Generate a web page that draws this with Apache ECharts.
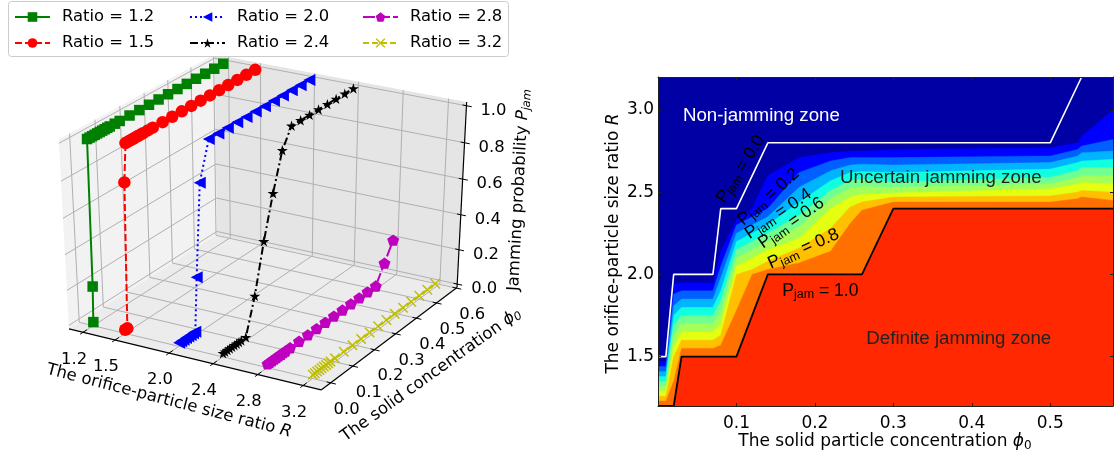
<!DOCTYPE html>
<html><head><meta charset="utf-8">
<style>html,body{margin:0;padding:0;background:#fff}#c{width:1116px;height:456px}</style>
<script src="https://cdn.jsdelivr.net/npm/echarts@6/dist/echarts.min.js"></script>
</head><body><div id="c"></div>
<script>
// ---------- left panel: jamming probability per size ratio ----------
const phiRatio12 = [0.001,0.005,0.01,0.02,0.03,0.04,0.05,0.06,0.07,0.08,0.09,0.10,0.12,0.14,0.18,0.22,0.26,0.30,0.34,0.38,0.42,0.46,0.50,0.54,0.58];
const pRatio12   = [0,0.2,1,1,1,1,1,1,1,1,1,1,1,1,1,1,1,1,1,1,1,1,1,1,1];
const phiRatio15 = [0.001,0.01,0.02,0.03,0.04,0.05,0.06,0.07,0.08,0.09,0.10,0.12,0.14,0.18,0.22,0.26,0.30,0.34,0.38,0.42,0.46,0.50,0.54,0.58];
const pRatio15   = [0,0,0.8,1,1,1,1,1,1,1,1,1,1,1,1,1,1,1,1,1,1,1,1,1];
const phiRatio20 = [0.001,0.01,0.02,0.03,0.04,0.05,0.06,0.07,0.08,0.10,0.14,0.18,0.22,0.26,0.30,0.34,0.38,0.42,0.46,0.50,0.54,0.58];
const pRatio20   = [0,0,0,0,0,0,0,0,0.3,0.8,1,1,1,1,1,1,1,1,1,1,1,1];
const phiRatio24 = [0.001,0.01,0.02,0.03,0.04,0.05,0.06,0.07,0.08,0.10,0.14,0.18,0.22,0.26,0.30,0.34,0.38,0.42,0.46,0.50,0.54,0.58];
const pRatio24   = [0,0,0,0,0,0,0,0,0,0,0.2,0.47,0.7,0.9,1,1,1,1,1,1,1,1];
const phiRatio28 = [0.001,0.01,0.02,0.03,0.04,0.05,0.06,0.07,0.08,0.10,0.14,0.18,0.22,0.26,0.30,0.34,0.38,0.42,0.46,0.50,0.54,0.58];
const pRatio28   = [0,0,0,0,0,0,0,0,0,0,0,0,0,0,0,0,0,0,0,0,0.1,0.2];
const phiRatio32 = [0.001,0.01,0.02,0.03,0.04,0.05,0.06,0.07,0.08,0.10,0.14,0.18,0.22,0.26,0.30,0.34,0.38,0.42,0.46,0.50,0.54,0.58];
const pRatio32   = [0,0,0,0,0,0,0,0,0,0,0,0,0,0,0,0,0,0,0,0,0,0];
const ratioTicks = [1.2,1.5,2.0,2.4,2.8,3.2];
const phiTicks   = [0,0.1,0.2,0.3,0.4,0.5,0.6];
const pTicks     = [0,0.2,0.4,0.6,0.8,1.0];

// ---------- right panel: contour boundaries, R at each phi column ----------
const contourPhi = [0,0.01,0.02,0.03,0.07,0.08,0.10,0.12,0.14,0.18,0.22,0.245,0.26,0.30,0.50,0.535,0.54,0.58];
const levelR1  = [1.47,1.47,1.94,1.95,1.95,2.14,2.33,2.40,2.60,2.71,2.74,2.75,2.75,2.76,2.77,2.80,2.84,3.00];
const levelR2  = [1.44,1.44,1.88,1.90,1.90,2.05,2.30,2.35,2.40,2.62,2.69,2.71,2.71,2.71,2.72,2.76,2.78,2.82];
const levelR3  = [1.41,1.41,1.81,1.85,1.85,1.98,2.25,2.30,2.35,2.53,2.63,2.665,2.67,2.665,2.68,2.72,2.74,2.75];
const levelR4  = [1.38,1.38,1.75,1.80,1.80,1.90,2.20,2.25,2.30,2.44,2.57,2.62,2.625,2.62,2.64,2.68,2.69,2.70];
const levelR5  = [1.35,1.35,1.69,1.75,1.75,1.84,2.15,2.20,2.25,2.36,2.51,2.57,2.58,2.56,2.59,2.63,2.65,2.65];
const levelR6  = [1.32,1.32,1.625,1.70,1.70,1.77,2.10,2.15,2.20,2.29,2.46,2.525,2.535,2.53,2.55,2.59,2.60,2.60];
const levelR7  = [1.29,1.29,1.56,1.65,1.65,1.70,2.05,2.10,2.15,2.22,2.40,2.47,2.485,2.495,2.52,2.55,2.56,2.55];
const levelR8  = [1.26,1.26,1.50,1.60,1.60,1.63,2.00,2.03,2.08,2.16,2.28,2.41,2.44,2.47,2.477,2.50,2.51,2.50];
const levelR9  = [1.23,1.23,1.35,1.55,1.55,1.57,1.78,2.00,2.03,2.07,2.14,2.31,2.39,2.44,2.44,2.46,2.47,2.45];
const levelR10 = [1.20,1.20,1.20,1.50,1.50,1.50,1.50,1.75,2.00,2.00,2.00,2.00,2.00,2.40,2.40,2.40,2.40,2.40];
const levelColors = ['#0000ff','#0060ff','#00b4ff','#10ffe0','#70ff90','#a4ff58','#e4ff10','#ffc000','#ff7000','#ff2800'];
const bgNavy = '#0000a4';
const pJam0Phi = [0,0.01,0.02,0.07,0.08,0.10,0.14,0.50,0.54,0.58];
const pJam0R   = [1.5,1.5,2.0,2.0,2.4,2.4,2.8,2.8,3.2,3.2];
const pJam1Phi = [0,0.02,0.03,0.10,0.14,0.26,0.30,0.58];
const pJam1R   = [1.2,1.2,1.5,1.5,2.0,2.0,2.4,2.4];
const xTickValues = [0.1,0.2,0.3,0.4,0.5];
const yTickValues = [1.5,2.0,2.5,3.0];

// ---------- 3D projection (elev 30, azim -60, dist 10) ----------
const RLIM=[1.067,3.358], PHILIM=[-0.042,0.604], ZLIM=[-0.02,1.02];
const SX=2911, TX=266, SY=2163, TY=216.5;
const U=[0.8660254,0.5,0], V=[-0.25,0.4330127,0.8660254], N=[0.4330127,-0.75,0.5];
function normProject(a,b,c){
  const q=[a-.5,b-.5,c-.5];
  const d=(v)=>v[0]*q[0]+v[1]*q[1]+v[2]*q[2];
  const w=10-d(N);
  return [d(U)/w,d(V)/w];
}
const nr=r=>(r-RLIM[0])/(RLIM[1]-RLIM[0]);
const np=p=>(p-PHILIM[0])/(PHILIM[1]-PHILIM[0]);
const nz=z=>(z-ZLIM[0])/(ZLIM[1]-ZLIM[0]);
const project=(r,p,z)=>normProject(nr(r),np(p),nz(z));
const FONT='"DejaVu Sans"';

function frameItem(params,api){
  const c=(a,b,d)=>api.coord(normProject(a,b,d));
  const poly=(pts,fill)=>({type:'polygon',silent:true,shape:{points:pts},style:{fill}});
  const seg=(p,q,stroke,lw)=>({type:'line',silent:true,shape:{x1:p[0],y1:p[1],x2:q[0],y2:q[1]},style:{stroke,lineWidth:lw}});
  const kids=[];
  kids.push(poly([c(0,0,0),c(0,1,0),c(0,1,1),c(0,0,1)],'#f2f2f2'));
  kids.push(poly([c(0,1,0),c(1,1,0),c(1,1,1),c(0,1,1)],'#e5e5e5'));
  kids.push(poly([c(0,0,0),c(1,0,0),c(1,1,0),c(0,1,0)],'#ececec'));
  const G='#b0b0b0';
  ratioTicks.forEach(r=>{const t=nr(r);
    kids.push(seg(c(t,0,0),c(t,1,0),G,1));kids.push(seg(c(t,1,0),c(t,1,1),G,1));});
  phiTicks.forEach(p=>{const t=np(p);
    kids.push(seg(c(0,t,0),c(1,t,0),G,1));kids.push(seg(c(0,t,0),c(0,t,1),G,1));});
  pTicks.forEach(z=>{const t=nz(z);
    kids.push(seg(c(0,0,t),c(0,1,t),G,1));kids.push(seg(c(0,1,t),c(1,1,t),G,1));});
  const K='#000';
  kids.push(seg(c(0,0,0),c(1,0,0),K,1.2));
  kids.push(seg(c(1,0,0),c(1,1,0),K,1.2));
  kids.push(seg(c(1,1,0),c(1,1,1),K,1.2));
  const txt=(p,dx,dy,text)=>({type:'text',silent:true,x:p[0]+dx,y:p[1]+dy,style:{text,fill:'#000',fontFamily:FONT,fontSize:16.4,align:'center',verticalAlign:'middle'}});
  ratioTicks.forEach(r=>{const t=nr(r);
    kids.push(seg(c(t,-0.018,0),c(t,0.025,0),K,1));
    kids.push(txt(c(t,0,0),-9,27,r.toFixed(1)));});
  phiTicks.forEach(p=>{const t=np(p);
    kids.push(seg(c(0.985,t,0),c(1.02,t,0),K,1));
    kids.push(txt(c(1,t,0),16,26.5,p.toFixed(1)));});
  pTicks.forEach(z=>{const t=nz(z);
    kids.push(seg(c(0.985,1,t),c(1.02,1,t),K,1));
    kids.push(txt(c(1,1,t),27,5,z.toFixed(1)));});
  return {type:'group',children:kids};
}

function freeText(px,py,text,rotDeg,rich){
  return {type:'text',silent:true,x:px,y:py,rotation:rotDeg*Math.PI/180,
    style:{text,align:'center',verticalAlign:'middle',rich}};
}
const mathRich={
  n:{fontFamily:FONT,fontSize:16.5,color:'#000'},
  i:{fontFamily:FONT,fontStyle:'italic',fontSize:16.5,color:'#000'},
  s:{fontFamily:FONT,fontStyle:'italic',fontSize:11.5,color:'#000',padding:[7,0,0,0]}
};
const axisRich={
  n:{fontFamily:FONT,fontSize:17,color:'#000'},
  i:{fontFamily:FONT,fontStyle:'italic',fontSize:17,color:'#000'},
  s:{fontFamily:FONT,fontSize:12,color:'#000',padding:[7,0,0,0]}
};
function titlesItem(params,api){
  return {type:'group',children:[
    freeText(169,401,'{n|The orifice-particle size ratio }{i|R}',-14.5,mathRich),
    freeText(431,375,'{n|The solid concentration }{i|ϕ}{s|0}',35.7,mathRich),
    freeText(519,190,'{n|Jamming probability }{i|P}{s|jam}',87,mathRich),
    freeText(885,442,'{n|The solid particle concentration }{i|ϕ}{s|0}',0,axisRich),
    freeText(614,243.5,'{n|The orifice-particle size ratio }{i|R}',90,axisRich)
  ]};
}

// right panel
const levelRows=[levelR1,levelR2,levelR3,levelR4,levelR5,levelR6,levelR7,levelR8,levelR9,levelR10];
function bandsItem(params,api){
  const kids=levelRows.map((row,k)=>{
    const pts=row.map((r,i)=>api.coord([contourPhi[i],r]));
    pts.push(api.coord([0.58,1.2]));pts.push(api.coord([0,1.2]));
    return {type:'polygon',silent:true,shape:{points:pts},style:{fill:levelColors[k],stroke:levelColors[k],lineWidth:0.4}};
  });
  return {type:'group',children:kids};
}
const jamLabels=[
 [0.1052,2.641,'0.0',58,'#fff'],
 [0.1408,2.471,'0.2',42,'#222'],
 [0.1535,2.368,'0.4',34,'#222'],
 [0.170,2.313,'0.6',35,'#222'],
 [0.1854,2.155,'0.8',24,'#222'],
 [0.207,1.90,'1.0',0,'#222']
];
const zoneLabels=[
 [0.1318,2.962,'Non-jamming zone','#fff'],
 [0.3605,2.586,'Uncertain jamming zone','#222'],
 [0.3834,1.609,'Definite jamming zone','#222']
];
const LIB='"Liberation Sans"';
function labelsItem(params,api){
  const kids=[];
  jamLabels.forEach(l=>{
    const p=api.coord([l[0],l[1]]);
    kids.push({type:'text',silent:true,x:p[0],y:p[1],rotation:l[3]*Math.PI/180,
      style:{text:'{p|P}{s|jam}{p| = '+l[2]+'}',align:'center',verticalAlign:'middle',
        rich:{p:{fontFamily:LIB,fontSize:17.5,color:l[4]},s:{fontFamily:LIB,fontSize:12.5,color:l[4],padding:[8,0,0,0]}}}});
  });
  zoneLabels.forEach(l=>{
    const p=api.coord([l[0],l[1]]);
    kids.push({type:'text',silent:true,x:p[0],y:p[1],
      style:{text:l[2],fill:l[3],fontFamily:LIB,fontSize:18.7,align:'center',verticalAlign:'middle'}});
  });
  return {type:'group',children:kids};
}

const mk=(name,r,phis,ps,color,symbol,size,dash,extra)=>Object.assign({
  name,type:'line',xAxisIndex:0,yAxisIndex:0,z:5,
  data:phis.map((p,i)=>project(r,p,ps[i])),
  symbol,symbolSize:size,symbolKeepAspect:true,
  lineStyle:{color,width:2,type:dash},
  itemStyle:{color,borderWidth:0},
  silent:true,clip:false
},extra||{});
const STAR='path://M50,0 L61,35 L98,35 L68,57 L79,91 L50,70 L21,91 L32,57 L2,35 L39,35 Z';
const PENT='path://M50,0 L98,35 L79,91 L21,91 L2,35 Z';
const CROSS='path://M2,0 L10,8 L18,0 L20,2 L12,10 L20,18 L18,20 L10,12 L2,20 L0,18 L8,10 L0,2 Z';

const series=[
 {type:'custom',xAxisIndex:0,yAxisIndex:0,z:1,data:[[0,0]],renderItem:frameItem,silent:true,clip:false},
 mk('Ratio = 1.2',1.2,phiRatio12,pRatio12,'#008000','rect',10.5,'solid'),
 mk('Ratio = 1.5',1.5,phiRatio15,pRatio15,'#ff0000','circle',12.5,[7,3]),
 mk('Ratio = 2.0',2.0,phiRatio20,pRatio20,'#0000ff','triangle',12,[2,3],{symbolRotate:90}),
 mk('Ratio = 2.4',2.4,phiRatio24,pRatio24,'#000000',STAR,11,[8,3,2,3]),
 mk('Ratio = 2.8',2.8,phiRatio28,pRatio28,'#bf00bf',PENT,12,[12,3]),
 mk('Ratio = 3.2',3.2,phiRatio32,pRatio32,'#bfbf00',CROSS,10.5,[6,3]),
 {type:'custom',xAxisIndex:0,yAxisIndex:0,z:6,data:[[0,0]],renderItem:titlesItem,silent:true,clip:false},
 {type:'custom',xAxisIndex:1,yAxisIndex:1,z:2,data:[[0.3,2]],renderItem:bandsItem,silent:true,clip:true},
 {type:'line',xAxisIndex:1,yAxisIndex:1,z:3,symbol:'none',silent:true,clip:true,
  data:pJam0Phi.map((p,i)=>[p,pJam0R[i]]),lineStyle:{color:'#fff',width:1.6}},
 {type:'line',xAxisIndex:1,yAxisIndex:1,z:3,symbol:'none',silent:true,clip:true,
  data:pJam1Phi.map((p,i)=>[p,pJam1R[i]]),lineStyle:{color:'#000',width:1.8}},
 {type:'custom',xAxisIndex:1,yAxisIndex:1,z:4,data:[[0.3,2]],renderItem:labelsItem,silent:true,clip:false}
];

const hidden={show:false};
const edge={show:true,onZero:false,lineStyle:{color:'#222',width:1}};
const legendCol=(left,names)=>({
  left,top:9,orient:'vertical',padding:0,itemGap:10,itemWidth:35,itemHeight:12,data:names,selectedMode:false,
  textStyle:{fontFamily:FONT,fontSize:16.4,color:'#000',padding:[0,0,0,7]},z:10
});
const option={
 animation:false,backgroundColor:'#fff',
 graphic:[{type:'rect',silent:true,z:9,shape:{x:8.5,y:1.5,width:500,height:55,r:3},style:{fill:'#fff',stroke:'#ccc',lineWidth:1}}],
 legend:[
  legendCol(14,['Ratio = 1.2','Ratio = 1.5']),
  legendCol(189,['Ratio = 2.0','Ratio = 2.4']),
  legendCol(362,['Ratio = 2.8','Ratio = 3.2'])
 ],
 grid:[
  {left:0,top:0,width:560,height:456},
  {left:658,top:77,width:455,height:329,show:true,backgroundColor:bgNavy,borderWidth:0}
 ],
 xAxis:[
  {type:'value',gridIndex:0,min:-TX/SX,max:(560-TX)/SX,show:false},
  {type:'value',gridIndex:1,min:0,max:0.58,position:'bottom',z:10,
   axisLine:edge,splitLine:hidden,
   axisTick:{show:true,inside:true,length:3,customValues:xTickValues,lineStyle:{color:'#222'}},
   axisLabel:{customValues:xTickValues,formatter:v=>v.toFixed(1),margin:9,fontFamily:FONT,fontSize:17,color:'#000'}},
  {type:'value',gridIndex:1,min:0,max:0.58,position:'top',z:10,axisLine:edge,splitLine:hidden,
   axisTick:{show:true,inside:true,length:3,customValues:xTickValues,lineStyle:{color:'#222'}},axisLabel:hidden}
 ],
 yAxis:[
  {type:'value',gridIndex:0,min:(TY-456)/SY,max:TY/SY,show:false},
  {type:'value',gridIndex:1,min:1.2,max:3.2,position:'left',z:10,
   axisLine:edge,splitLine:hidden,
   axisTick:{show:true,inside:true,length:3,customValues:yTickValues,lineStyle:{color:'#222'}},
   axisLabel:{customValues:yTickValues,formatter:v=>v.toFixed(1),margin:4,fontFamily:FONT,fontSize:17,color:'#000'}},
  {type:'value',gridIndex:1,min:1.2,max:3.2,position:'right',z:10,axisLine:edge,splitLine:hidden,
   axisTick:{show:true,inside:true,length:3,customValues:yTickValues,lineStyle:{color:'#222'}},axisLabel:hidden}
 ],
 series
};
echarts.init(document.getElementById('c'),null,{renderer:'canvas'}).setOption(option);
</script></body></html>
